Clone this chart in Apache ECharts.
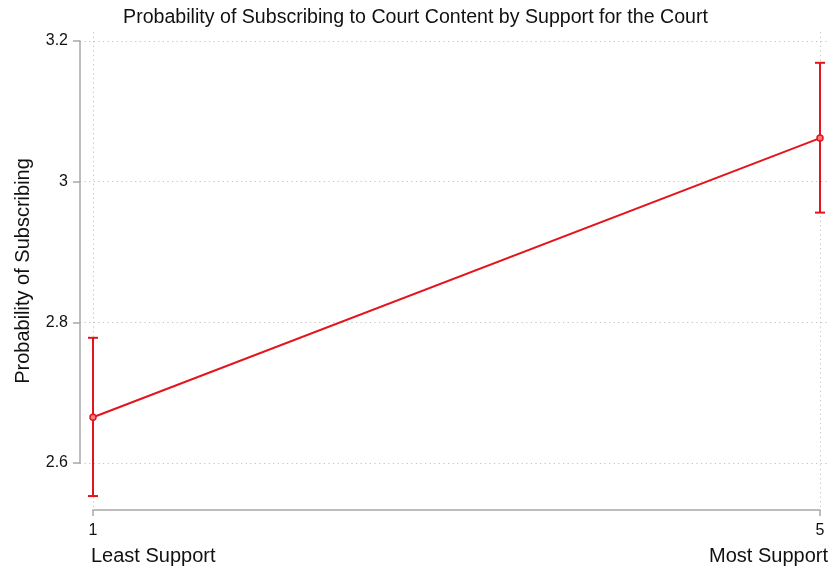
<!DOCTYPE html>
<html>
<head>
<meta charset="utf-8">
<script src="https://cdn.jsdelivr.net/npm/echarts@6/dist/echarts.min.js"></script>
<style>
html,body{margin:0;padding:0;background:#fff;}
#chart{width:831px;height:567px;}
</style>
</head>
<body>
<div id="chart"></div>
<script>
// ---- data ----
const supportLevels = [1, 5];
const supportLabels = ['Least Support', 'Most Support'];
const meanValues = [2.665, 3.062];
const lowerCI = [2.553, 2.956];
const upperCI = [2.778, 3.169];
const yMin = 2.6, yMax = 3.2, yStep = 0.2;

const RED = '#e3141c';
const FONT = '"Liberation Sans", Arial, sans-serif';

const chart = echarts.init(document.getElementById('chart'), null, {renderer: 'canvas'});

const linePts = supportLevels.map((x, i) => [x, meanValues[i]]);
const barPts = supportLevels.map((x, i) => [x, lowerCI[i], upperCI[i]]);

const gridLine = {show: true, lineStyle: {color: '#c2c2c2', type: [1.2, 3.4], width: 1}};

chart.setOption({
  animation: false,
  backgroundColor: '#fff',
  title: {
    text: 'Probability of Subscribing to Court Content by Support for the Court',
    left: 'center', top: 3,
    textStyle: {fontFamily: FONT, fontSize: 19.6, fontWeight: 'normal', color: '#111'}
  },
  grid: [
    {left: 93, right: 11, top: 41, bottom: 104},   // data
    {left: 80, right: 3, top: 41, bottom: 104},    // y axis + horizontal grid
    {left: 93, right: 11, top: 32, bottom: 57},    // x axis + vertical grid
    {left: 91, right: 3, top: 32, bottom: 57}      // x text labels
  ],
  xAxis: [
    {gridIndex: 0, type: 'value', min: 1, max: 5, show: false},
    {gridIndex: 1, type: 'value', min: 0, max: 1, show: false},
    {gridIndex: 2, type: 'value', min: 1, max: 5, interval: 4, position: 'bottom',
      axisLine: {show: true, lineStyle: {color: '#a8a8a8', width: 1.5}},
      axisTick: {show: true, length: 6, lineStyle: {color: '#a8a8a8', width: 1.5}},
      axisLabel: {fontFamily: FONT, fontSize: 16, color: '#111', margin: 13},
      splitLine: gridLine
    },
    {gridIndex: 3, type: 'value', min: 1, max: 5, interval: 4, position: 'bottom',
      axisLine: {show: false}, axisTick: {show: false}, splitLine: {show: false},
      axisLabel: {
        fontFamily: FONT, fontSize: 20, color: '#111', margin: 36,
        alignMinLabel: 'left', alignMaxLabel: 'right',
        formatter: v => supportLabels[supportLevels.indexOf(v)] || ''
      }
    }
  ],
  yAxis: [
    {gridIndex: 0, type: 'value', min: yMin, max: yMax, show: false},
    {gridIndex: 1, type: 'value', min: yMin, max: yMax, interval: yStep, position: 'left',
      axisLine: {show: true, lineStyle: {color: '#a8a8a8', width: 1.5}},
      axisTick: {show: true, length: 7, lineStyle: {color: '#a8a8a8', width: 1.5}},
      axisLabel: {fontFamily: FONT, fontSize: 16, color: '#111', margin: 12},
      splitLine: gridLine
    },
    {gridIndex: 2, type: 'value', min: 0, max: 1, position: 'left',
      axisLine: {show: false}, axisTick: {show: false}, axisLabel: {show: false}, splitLine: {show: false},
      name: 'Probability of Subscribing', nameLocation: 'middle', nameGap: 60, nameRotate: 90,
      nameTextStyle: {fontFamily: FONT, fontSize: 20, color: '#111'}
    },
    {gridIndex: 3, type: 'value', min: 0, max: 1, show: false}
  ],
  series: [
    {
      type: 'custom', xAxisIndex: 0, yAxisIndex: 0, clip: false, z: 3,
      data: barPts,
      renderItem: function (params, api) {
        const x = api.value(0);
        const lo = api.coord([x, api.value(1)]);
        const hi = api.coord([x, api.value(2)]);
        const cap = 5;
        const style = {stroke: RED, lineWidth: 2};
        return {type: 'group', children: [
          {type: 'line', shape: {x1: lo[0], y1: lo[1], x2: hi[0], y2: hi[1]}, style},
          {type: 'line', shape: {x1: lo[0] - cap, y1: lo[1], x2: lo[0] + cap, y2: lo[1]}, style},
          {type: 'line', shape: {x1: hi[0] - cap, y1: hi[1], x2: hi[0] + cap, y2: hi[1]}, style}
        ]};
      }
    },
    {
      type: 'line', xAxisIndex: 0, yAxisIndex: 0, clip: false, z: 4,
      data: linePts,
      symbol: 'circle', symbolSize: 6,
      lineStyle: {color: RED, width: 2},
      itemStyle: {color: '#f08080', borderColor: RED, borderWidth: 1.5}
    }
  ]
});
</script>
</body>
</html>
